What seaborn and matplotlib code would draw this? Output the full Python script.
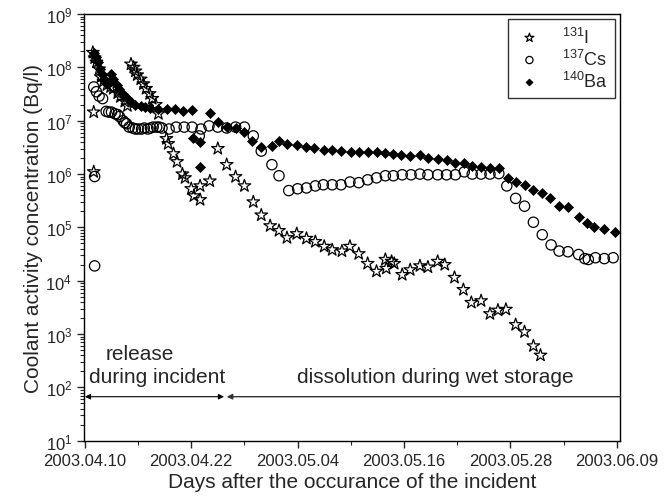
import pandas as pd
import matplotlib
matplotlib.use("Agg")
import matplotlib.pyplot as plt
import seaborn as sns
from matplotlib.ticker import MultipleLocator, LogLocator, NullFormatter

# days after 2003.04.10 and coolant activity (Bq/l)
i131_day = [1.0, 1.0, 0.9, 1.1, 1.3, 1.6, 1.8, 2.1, 2.5, 2.9,
            3.2, 3.7, 4.0, 4.5, 4.8, 5.2, 5.5, 5.7, 5.9, 6.3,
            6.6, 6.9, 7.3, 7.6, 8.0, 8.3, 9.2, 9.4, 10.0, 10.4,
            11.0, 11.3, 12.0, 12.3, 13.0, 13.0, 14.1, 15.0, 16.0, 17.0,
            18.0, 19.0, 19.9, 20.9, 21.9, 22.8, 23.9, 25.0, 26.0, 27.0,
            27.9, 29.0, 29.9, 30.9, 31.9, 32.9, 33.9, 34.0, 34.6, 34.9,
            35.8, 36.7, 37.8, 38.7, 39.8, 40.6, 41.7, 42.7, 43.6, 44.7,
            45.7, 46.6, 47.5, 48.6, 49.6, 50.6, 51.4]
i131_val = [1.1e6, 1.45e7, 1.9e8, 1.5e8, 1.25e8, 9.3e7, 6.6e7, 5.5e7, 4.7e7, 4.3e7,
            4.0e7, 3.3e7, 2.8e7, 2.3e7, 1.9e7, 1.15e8, 1.0e8, 8.5e7, 7.2e7, 6.0e7,
            4.9e7, 4.0e7, 3.2e7, 2.6e7, 2.0e7, 1.35e7, 4.6e6, 3.7e6, 2.4e6, 1.7e6,
            1.0e6, 8.5e5, 5.3e5, 3.9e5, 3.3e5, 6.0e5, 7.4e5, 3.0e6, 1.5e6, 8.9e5,
            6.0e5, 3.0e5, 1.7e5, 1.07e5, 8.7e4, 6.4e4, 7.6e4, 6.2e4, 5.4e4, 4.4e4,
            3.8e4, 3.6e4, 4.4e4, 3.2e4, 2.1e4, 1.5e4, 2.5e4, 1.7e4, 2.3e4, 2.1e4,
            1.3e4, 1.6e4, 1.9e4, 1.8e4, 2.3e4, 2.0e4, 1.15e4, 6.8e3, 3.9e3, 4.2e3,
            2.4e3, 2.8e3, 2.9e3, 1.5e3, 1.1e3, 6.0e2, 4.0e2]

cs137_day = [1.1, 1.1, 1.0, 1.3, 1.6, 2.0, 2.4, 2.7, 3.0, 3.4,
             3.7, 3.9, 4.3, 4.5, 4.7, 5.0, 5.4, 5.7, 6.0, 6.4,
             6.7, 7.1, 7.4, 7.7, 8.1, 8.4, 8.7, 9.5, 10.3, 11.2,
             12.1, 12.9, 13.1, 14.0, 15.0, 16.0, 17.0, 18.0, 19.0, 19.9,
             21.1, 21.9, 23.0, 24.0, 25.0, 26.0, 26.9, 27.9, 28.9, 29.9,
             30.9, 31.9, 32.9, 33.9, 34.8, 35.8, 36.8, 37.8, 38.7, 39.8,
             40.8, 41.8, 42.8, 43.7, 44.7, 45.7, 46.7, 47.6, 48.6, 49.6,
             50.6, 51.6, 52.6, 53.5, 54.5, 55.7, 56.4, 56.8, 57.6, 58.6,
             59.6]
cs137_val = [1.9e4, 9.0e5, 4.3e7, 3.5e7, 2.9e7, 2.6e7, 1.5e7, 1.45e7, 1.45e7, 1.35e7,
             1.3e7, 1.2e7, 1.0e7, 9.2e6, 8.8e6, 7.6e6, 7.3e6, 7.0e6, 7.0e6, 7.0e6,
             7.3e6, 7.0e6, 7.3e6, 7.6e6, 7.6e6, 7.6e6, 7.3e6, 7.0e6, 7.6e6, 7.6e6,
             7.6e6, 5.2e6, 7.0e6, 8.0e6, 7.6e6, 7.3e6, 7.6e6, 7.6e6, 5.2e6, 2.7e6,
             1.5e6, 9.3e5, 4.9e5, 5.3e5, 5.5e5, 6.0e5, 6.3e5, 6.3e5, 6.3e5, 7.1e5,
             6.9e5, 7.8e5, 8.5e5, 9.3e5, 9.3e5, 9.7e5, 9.7e5, 1.0e6, 9.7e5, 9.7e5,
             9.7e5, 9.7e5, 1.1e6, 1.0e6, 1.0e6, 1.0e6, 1.02e6, 6.0e5, 3.5e5, 2.5e5,
             1.25e5, 7.3e4, 4.7e4, 3.6e4, 3.5e4, 3.1e4, 2.6e4, 2.5e4, 2.7e4, 2.6e4,
             2.7e4]

ba140_day = [1.0, 1.2, 1.5, 1.7, 1.9, 2.2, 2.5, 2.9, 3.2, 3.6,
             3.9, 4.3, 4.7, 5.2, 5.7, 6.3, 6.8, 7.4, 8.2, 9.3,
             10.2, 11.1, 12.1, 12.2, 13.0, 13.0, 14.1, 15.0, 16.0, 17.1,
             18.0, 18.9, 19.9, 21.1, 21.9, 22.8, 23.9, 25.0, 25.9, 27.0,
             27.9, 28.9, 30.0, 30.9, 31.9, 32.9, 33.9, 34.8, 35.7, 36.7,
             37.8, 38.7, 39.8, 40.8, 41.8, 42.8, 43.7, 44.7, 45.7, 46.7,
             47.7, 48.6, 49.6, 50.6, 51.6, 52.5, 53.5, 54.5, 55.8, 56.6,
             57.4, 58.6, 59.8]
ba140_val = [1.9e8, 1.55e8, 1.25e8, 9.3e7, 7.6e7, 6.0e7, 4.9e7, 7.6e7, 6.0e7, 4.7e7,
             4.0e7, 3.2e7, 2.7e7, 2.2e7, 2.0e7, 1.9e7, 1.8e7, 1.75e7, 1.66e7, 1.66e7,
             1.66e7, 1.5e7, 1.6e7, 4.8e6, 4.0e6, 1.35e6, 1.4e7, 9.5e6, 7.6e6, 7.3e6,
             6.2e6, 4.2e6, 3.2e6, 3.4e6, 4.2e6, 3.7e6, 3.5e6, 3.2e6, 3.1e6, 2.8e6,
             2.8e6, 2.7e6, 2.6e6, 2.6e6, 2.6e6, 2.6e6, 2.5e6, 2.4e6, 2.3e6, 2.2e6,
             2.3e6, 2.0e6, 1.9e6, 1.85e6, 1.6e6, 1.6e6, 1.4e6, 1.35e6, 1.3e6, 1.3e6,
             8.5e5, 7.1e5, 6.3e5, 5.0e5, 4.4e5, 3.6e5, 2.5e5, 2.4e5, 1.6e5, 1.2e5,
             1.0e5, 9.4e4, 8.2e4]

tick_days = [0, 12, 24, 36, 48, 60]
tick_labels = ["2003.04.10", "2003.04.22", "2003.05.04",
               "2003.05.16", "2003.05.28", "2003.06.09"]

sns.set_style("ticks")
plt.rcParams['font.family'] = ['Liberation Sans', 'DejaVu Sans']
plt.rcParams['mathtext.fontset'] = 'custom'
plt.rcParams['mathtext.rm'] = 'Liberation Sans'
plt.rcParams['mathtext.it'] = 'Liberation Sans:italic'
plt.rcParams['mathtext.bf'] = 'Liberation Sans:bold'

fig, ax = plt.subplots(figsize=(6.72, 5.02), dpi=100)
fig.subplots_adjust(left=0.125, right=0.923, bottom=0.12, top=0.97)

i_df = pd.DataFrame({'day': i131_day, 'conc': i131_val})
cs_df = pd.DataFrame({'day': cs137_day, 'conc': cs137_val})
ba_df = pd.DataFrame({'day': ba140_day, 'conc': ba140_val})

sns.scatterplot(data=i_df, x='day', y='conc', marker='*', s=90, color='black',
                facecolor='none', edgecolor='black', linewidth=0.9,
                label=r'$^{131}$I', ax=ax)
sns.scatterplot(data=cs_df, x='day', y='conc', marker='o', s=55, color='black',
                facecolor='none', edgecolor='black', linewidth=0.9,
                label=r'$^{137}$Cs', ax=ax)
sns.scatterplot(data=ba_df, x='day', y='conc', marker='D', s=26, color='black',
                edgecolor='black', linewidth=0.5,
                label=r'$^{140}$Ba', ax=ax)

ax.set_yscale('log')
ax.set_ylim(10, 1e9)
ax.set_xlim(-0.1, 60.4)

ax.set_xticks(tick_days)
ax.set_xticklabels(tick_labels)
ax.xaxis.set_minor_locator(MultipleLocator(6))
ax.set_yticks([10.0 ** k for k in range(1, 10)])
ax.yaxis.set_minor_locator(LogLocator(base=10, subs=range(2, 10), numticks=50))
ax.yaxis.set_minor_formatter(NullFormatter())

ax.tick_params(which='major', direction='out', length=5, width=1, labelsize=12)
ax.tick_params(which='minor', direction='out', length=3, width=0.8)
for sp in ax.spines.values():
    sp.set_visible(True)
    sp.set_linewidth(1.0)
    sp.set_color('black')

ax.set_xlabel("Days after the occurance of the incident", fontsize=15, labelpad=3)
ax.set_ylabel("Coolant activity concentration (Bq/l)", fontsize=15, labelpad=2)

# period arrows and labels
ax.annotate('', xy=(0, 67), xytext=(15.7, 67),
            arrowprops=dict(arrowstyle='<|-|>', color='black', lw=0.8,
                            mutation_scale=8, shrinkA=0, shrinkB=0))
ax.annotate('', xy=(16.0, 67), xytext=(60.4, 67),
            arrowprops=dict(arrowstyle='-|>', color='#333333', lw=1.0,
                            mutation_scale=8, shrinkA=0, shrinkB=0))
ax.text(6.2, 430, 'release', ha='center', va='center', fontsize=15)
ax.text(8.1, 160, 'during incident', ha='center', va='center', fontsize=15)
ax.text(39.5, 160, 'dissolution during wet storage', ha='center', va='center', fontsize=15)

leg = ax.legend(loc='upper right', fontsize=13, frameon=True, fancybox=False,
                edgecolor='black', markerscale=0.7, labelspacing=0.12,
                borderpad=0.4, handletextpad=1.0, handlelength=1.6,
                borderaxespad=0, bbox_to_anchor=(0.99, 0.988))
leg.get_frame().set_linewidth(1.0)

fig.savefig("out.png", dpi=100)
